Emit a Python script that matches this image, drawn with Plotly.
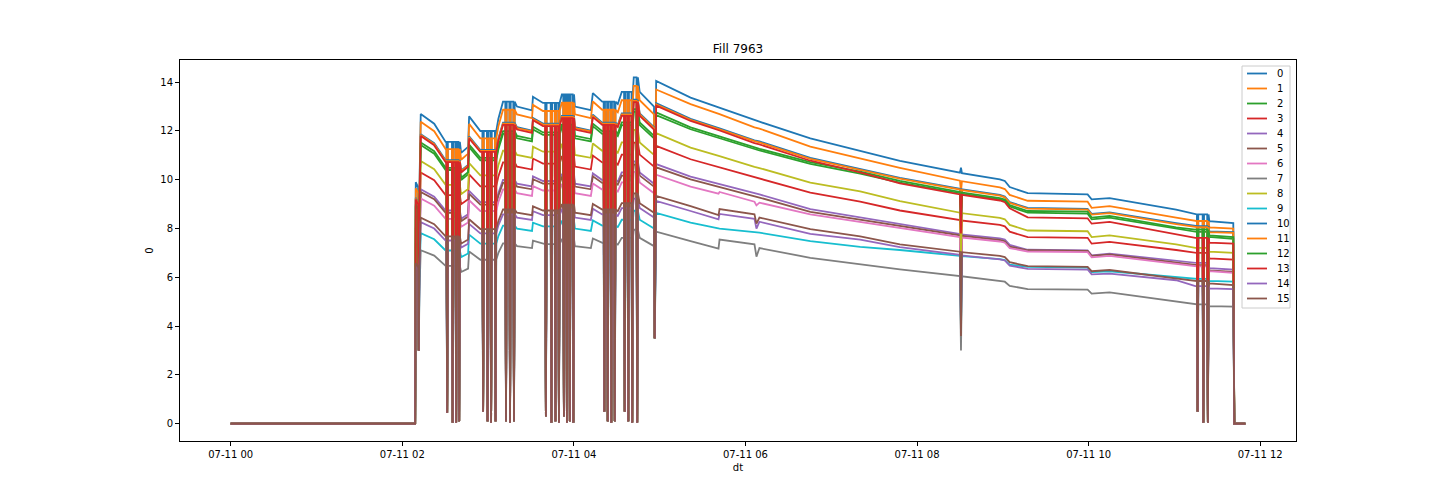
import pandas as pd
import plotly.graph_objects as go

# ---------------- data ----------------
BASE_DAY = "2022-07-11"

# anchor times, hours after 07-11 00:00
anchor_hours = [
    0.000, 2.150, 2.157, 2.180, 2.215, 2.372, 2.505, 2.686, 2.767, 2.779,
    2.910, 3.120, 3.174, 3.337, 3.512, 3.523, 3.640, 3.860, 4.012, 4.198,
    4.221, 4.330, 4.512, 4.558, 4.698, 4.767, 4.930, 4.959, 5.360, 5.686,
    5.698, 6.105, 6.128, 6.163, 6.756, 7.337, 7.800, 8.500, 8.512, 8.523,
    8.965, 9.023, 9.080, 9.290, 9.988, 10.035, 10.244, 11.020, 11.244, 11.407,
    11.686, 11.698, 11.826,
]

# beam-dump style dips: time (hours) and the depth reached
dip_hours = [
    2.192,
    2.523, 2.587, 2.628, 2.663,
    2.942, 2.994, 3.035, 3.087,
    3.209, 3.256, 3.302,
    3.674, 3.738, 3.785, 3.826, 3.884, 3.919, 3.953, 3.994,
    4.355, 4.395, 4.436, 4.477,
    4.593, 4.634, 4.680, 4.738,
    4.942,
    11.270, 11.337, 11.390,
]
dip_depth = [
    3.0,
    0.45, 0.05, 0.05, 0.10,
    0.50, 0.10, 0.05, 0.10,
    0.10, 0.05, 0.10,
    0.30, 0.05, 0.10, 0.05, 0.30, 0.05, 0.10, 0.05,
    0.50, 0.10, 0.05, 0.10,
    0.50, 0.10, 0.05, 0.05,
    3.5,
    0.50, 0.05, 0.05,
]

s0 = [0, 0, 9.9, 9.7, 12.7, 12.3, 11.55, 11.1, 11.35, 12.6, 12.0, 12.5, 13.2, 13.0, 12.85, 13.4, 13.15, 13.5, 13.0, 12.85, 13.55, 13.2, 13.1, 13.6, 14.2, 13.6, 13.0, 14.05,
      13.37, 12.97, 12.95, 12.43, 12.41, 12.38, 11.70, 11.17, 10.77, 10.29, 10.5, 10.27, 10.02, 9.95, 9.70, 9.45, 9.40, 9.20, 9.25, 8.78, 8.58, 8.30, 8.22, 0, 0]
s1 = [0, 0, 9.65, 9.46, 12.38, 11.99, 11.26, 10.82, 11.07, 12.29, 11.70, 12.19, 12.87, 12.68, 12.53, 13.07, 12.82, 13.16, 12.68, 12.53, 13.21, 12.87, 12.77, 13.26, 13.85, 13.26, 12.68, 13.70,
      13.10, 12.71, 12.69, 12.15, 12.13, 12.10, 11.36, 10.88, 10.49, 9.96, 9.5, 9.94, 9.69, 9.62, 9.38, 9.14, 9.10, 8.85, 8.92, 8.45, 8.31, 8.05, 8.00, 0, 0]
s2 = [0, 0, 8.91, 8.73, 11.43, 11.07, 10.40, 9.99, 10.22, 11.34, 10.80, 11.25, 11.88, 11.70, 11.57, 12.06, 11.84, 12.15, 11.70, 11.57, 12.20, 11.88, 11.79, 12.24, 12.78, 12.24, 11.70, 12.65,
      12.07, 11.71, 11.69, 11.25, 11.23, 11.20, 10.65, 10.25, 9.88, 9.45, 7.9, 9.43, 9.20, 9.13, 8.90, 8.65, 8.61, 8.38, 8.45, 8.00, 7.86, 7.66, 7.58, 0, 0]
s3 = [0, 0, 8.03, 7.87, 10.30, 9.98, 9.37, 9.00, 9.20, 10.22, 9.73, 10.14, 10.71, 10.54, 10.42, 10.87, 10.66, 10.95, 10.54, 10.42, 10.99, 10.71, 10.62, 11.03, 11.52, 11.03, 10.54, 11.39,
      10.84, 10.52, 10.50, 10.08, 10.06, 10.03, 9.47, 9.10, 8.74, 8.35, 6.5, 8.33, 8.15, 8.09, 7.87, 7.65, 7.62, 7.38, 7.45, 7.12, 7.00, 6.78, 6.73, 0, 0]
s4 = [0, 0, 7.49, 7.34, 9.61, 9.31, 8.74, 8.40, 8.59, 9.54, 9.08, 9.46, 9.99, 9.84, 9.73, 10.14, 9.95, 10.22, 9.84, 9.73, 10.26, 9.99, 9.92, 10.30, 10.75, 10.30, 9.84, 10.64,
      10.13, 9.83, 9.82, 9.45, 9.43, 9.40, 8.80, 8.45, 8.20, 7.78, 5.5, 7.76, 7.60, 7.55, 7.33, 7.13, 7.10, 6.90, 6.97, 6.68, 6.59, 6.38, 6.32, 0, 0]
s5 = [0, 0, 7.41, 7.26, 9.50, 9.20, 8.64, 8.30, 8.49, 9.42, 8.98, 9.35, 9.87, 9.72, 9.61, 10.02, 9.84, 10.10, 9.72, 9.61, 10.14, 9.87, 9.80, 10.17, 10.62, 10.17, 9.72, 10.51,
      10.02, 9.72, 9.71, 9.32, 9.30, 9.27, 8.68, 8.36, 8.10, 7.72, 4.5, 7.70, 7.53, 7.48, 7.26, 7.11, 7.08, 6.88, 6.94, 6.60, 6.50, 6.28, 6.22, 0, 0]
s6 = [0, 0, 7.20, 7.05, 9.23, 8.94, 8.40, 8.07, 8.25, 9.16, 8.72, 9.09, 9.60, 9.45, 9.34, 9.74, 9.56, 9.81, 9.45, 9.34, 9.85, 9.60, 9.52, 9.89, 10.32, 9.89, 9.45, 10.21,
      9.72, 9.43, 9.50, 9.10, 8.95, 9.06, 8.58, 8.28, 8.03, 7.65, 5.0, 7.63, 7.47, 7.42, 7.20, 7.06, 7.03, 6.82, 6.88, 6.55, 6.45, 6.25, 6.18, 0, 0]
s7 = [0, 0, 5.54, 5.43, 7.11, 6.89, 6.47, 6.22, 6.36, 7.06, 6.72, 7.00, 7.39, 7.28, 7.20, 7.50, 7.36, 7.56, 7.28, 7.20, 7.59, 7.39, 7.34, 7.62, 7.95, 7.62, 7.28, 7.87,
      7.48, 7.18, 7.55, 7.35, 6.85, 7.20, 6.80, 6.53, 6.33, 6.05, 3.0, 6.04, 5.86, 5.82, 5.65, 5.52, 5.50, 5.33, 5.38, 5.02, 4.89, 4.82, 4.80, 0, 0]
s8 = [0, 0, 8.40, 8.23, 10.77, 10.43, 9.79, 9.41, 9.62, 10.68, 10.18, 10.60, 11.19, 11.02, 10.90, 11.36, 11.15, 11.45, 11.02, 10.90, 11.49, 11.19, 11.11, 11.53, 12.04, 11.53, 11.02, 11.91,
      11.32, 10.99, 10.97, 10.53, 10.51, 10.48, 9.88, 9.52, 9.12, 8.65, 7.0, 8.63, 8.44, 8.38, 8.15, 7.92, 7.89, 7.65, 7.72, 7.35, 7.21, 7.05, 7.00, 0, 0]
s9 = [0, 0, 6.09, 5.97, 7.81, 7.56, 7.10, 6.83, 6.98, 7.75, 7.38, 7.69, 8.12, 8.00, 7.90, 8.24, 8.09, 8.30, 8.00, 7.90, 8.33, 8.12, 8.06, 8.36, 8.73, 8.36, 8.00, 8.64,
      8.24, 8.02, 8.00, 7.85, 7.84, 7.83, 7.48, 7.25, 7.12, 6.88, 3.8, 6.87, 6.75, 6.71, 6.52, 6.43, 6.40, 6.22, 6.25, 6.02, 5.94, 5.85, 5.82, 0, 0]
s10 = [0, 0, 9.26, 9.07, 11.87, 11.50, 10.80, 10.38, 10.61, 11.78, 11.22, 11.69, 12.34, 12.16, 12.01, 12.53, 12.30, 12.62, 12.16, 12.01, 12.67, 12.34, 12.25, 12.72, 13.28, 12.72, 12.16, 13.14,
       12.50, 12.13, 12.11, 11.62, 11.60, 11.57, 10.90, 10.45, 10.08, 9.63, 8.5, 9.61, 9.38, 9.31, 9.08, 8.85, 8.81, 8.60, 8.66, 8.22, 8.10, 7.88, 7.85, 0, 0]
s11 = [0, 0, 9.23, 9.04, 11.84, 11.46, 10.76, 10.35, 10.58, 11.74, 11.18, 11.65, 12.30, 12.12, 11.98, 12.49, 12.26, 12.58, 12.12, 11.98, 12.63, 12.30, 12.21, 12.68, 13.23, 12.68, 12.12, 13.09,
       12.46, 12.09, 12.07, 11.58, 11.56, 11.53, 10.86, 10.42, 10.05, 9.60, 8.4, 9.58, 9.35, 9.28, 9.05, 8.82, 8.78, 8.57, 8.63, 8.18, 8.06, 7.85, 7.82, 0, 0]
s12 = [0, 0, 8.99, 8.81, 11.53, 11.17, 10.49, 10.08, 10.31, 11.44, 10.90, 11.35, 11.99, 11.80, 11.67, 12.17, 11.94, 12.26, 11.80, 11.67, 12.30, 11.99, 11.89, 12.35, 12.89, 12.35, 11.80, 12.76,
       12.15, 11.80, 11.78, 11.32, 11.30, 11.27, 10.72, 10.33, 9.95, 9.50, 8.0, 9.48, 9.25, 9.19, 8.96, 8.72, 8.69, 8.45, 8.52, 8.05, 7.96, 7.72, 7.65, 0, 0]
s13 = [0, 0, 9.19, 9.00, 11.79, 11.41, 10.72, 10.30, 10.53, 11.69, 11.14, 11.60, 12.25, 12.06, 11.92, 12.44, 12.20, 12.53, 12.06, 11.92, 12.57, 12.25, 12.16, 12.62, 13.18, 12.62, 12.06, 13.04,
       12.41, 12.04, 12.02, 11.50, 11.48, 11.45, 10.78, 10.30, 9.85, 9.40, 7.8, 9.38, 9.15, 9.08, 8.83, 8.46, 8.42, 8.20, 8.27, 7.75, 7.62, 7.42, 7.38, 0, 0]
s14 = [0, 0, 6.44, 6.31, 8.26, 8.00, 7.51, 7.22, 7.38, 8.19, 7.80, 8.13, 8.58, 8.45, 8.35, 8.71, 8.55, 8.78, 8.45, 8.35, 8.81, 8.58, 8.52, 8.84, 9.23, 8.84, 8.45, 9.13,
       8.72, 8.38, 8.60, 8.40, 8.00, 8.28, 7.78, 7.55, 7.24, 6.92, 4.0, 6.90, 6.74, 6.69, 6.48, 6.35, 6.32, 6.12, 6.15, 5.88, 5.64, 5.55, 5.52, 0, 0]
s15 = [0, 0, 6.58, 6.45, 8.45, 8.18, 7.68, 7.38, 7.55, 8.38, 7.98, 8.31, 8.78, 8.65, 8.55, 8.91, 8.74, 8.98, 8.65, 8.55, 9.01, 8.78, 8.71, 9.04, 9.44, 9.04, 8.65, 9.34,
       8.92, 8.55, 8.80, 8.58, 8.20, 8.45, 7.98, 7.68, 7.35, 7.05, 3.6, 7.03, 6.88, 6.83, 6.62, 6.46, 6.43, 6.25, 6.30, 5.95, 5.85, 5.75, 5.68, 0, 0]

series_values = [s0, s1, s2, s3, s4, s5, s6, s7, s8, s9, s10, s11, s12, s13, s14, s15]
series_names = [str(i) for i in range(16)]

colors = ["#1f77b4", "#ff7f0e", "#2ca02c", "#d62728", "#9467bd",
          "#8c564b", "#e377c2", "#7f7f7f", "#bcbd22", "#17becf"]

x_tick_hours = [0, 2, 4, 6, 8, 10, 12]
y_ticks = [0, 2, 4, 6, 8, 10, 12, 14]

# ---------------- build ----------------
DIP_HALF_WIDTH_H = 0.008
base = pd.Timestamp(BASE_DAY)


def to_time(h):
    return base + pd.to_timedelta(h, unit="h")


def build_points(vals):
    pts = list(zip(anchor_hours, vals))
    for th, depth in zip(dip_hours, dip_depth):
        # level held from the latest anchor before the dip (the beam level around it)
        idx = max(j for j, t in enumerate(anchor_hours) if t <= th)
        level = vals[idx]
        pts += [(th - DIP_HALF_WIDTH_H, level), (th, depth), (th + DIP_HALF_WIDTH_H, level)]
    pts.sort(key=lambda p: p[0])
    return [to_time(p[0]) for p in pts], [p[1] for p in pts]


fig = go.Figure()
for i, (name, vals) in enumerate(zip(series_names, series_values)):
    xs, ys = build_points(vals)
    fig.add_trace(go.Scatter(
        x=xs, y=ys, mode="lines", name=name,
        line=dict(color=colors[i % 10], width=1.8),
        showlegend=False,
    ))

# plot area in pixels (matches the reference)
W, H = 1440, 504
L, R, T, B = 180, 1296, 60, 441

FONT = "DejaVu Sans"
fig.update_layout(
    width=W, height=H,
    margin=dict(l=L, r=W - R, t=T, b=H - B, pad=0),
    paper_bgcolor="white", plot_bgcolor="white",
    font=dict(family=FONT, size=10, color="black"),
    title=dict(text="Fill 7963", x=(L + R) / 2 / W, xanchor="center",
               y=1 - 49 / H, yanchor="middle", yref="container",
               font=dict(family=FONT, size=12, color="black")),
    showlegend=False,
)

fig.update_xaxes(
    type="date",
    range=[to_time(-0.591), to_time(12.417)],
    tickvals=[to_time(h) for h in x_tick_hours],
    tickformat="%m-%d %H",
    showgrid=False, zeroline=False,
    showline=True, mirror=True, linecolor="black", linewidth=1,
    ticks="outside", ticklen=4, tickwidth=1, tickcolor="black",
    tickfont=dict(family=FONT, size=10, color="black"),
    title=dict(text="dt", standoff=4, font=dict(family=FONT, size=10, color="black")),
    automargin=False,
)
fig.update_yaxes(
    range=[-0.71, 14.91],
    tickvals=y_ticks,
    showgrid=False, zeroline=False,
    showline=True, mirror=True, linecolor="black", linewidth=1,
    ticks="outside", ticklen=4, tickwidth=1, tickcolor="black",
    tickfont=dict(family=FONT, size=10, color="black"),
    title=dict(text="0", standoff=4, font=dict(family=FONT, size=10, color="black")),
    automargin=False,
)

# matplotlib-style legend box (upper right)
PW, PH = R - L, B - T


def px_x(px):
    return (px - L) / PW


def px_y(py):
    return (B - py) / PH


shapes = [dict(type="rect", xref="paper", yref="paper",
               x0=px_x(1242), x1=px_x(1290), y0=px_y(308), y1=px_y(66),
               line=dict(color="#cccccc", width=1), fillcolor="rgba(255,255,255,0.8)",
               layer="above")]
annotations = []
for i, name in enumerate(series_names):
    yy = 73.5 + 15 * i
    shapes.append(dict(type="line", xref="paper", yref="paper",
                       x0=px_x(1247), x1=px_x(1267), y0=px_y(yy), y1=px_y(yy),
                       line=dict(color=colors[i % 10], width=1.8), layer="above"))
    annotations.append(dict(xref="paper", yref="paper", x=px_x(1275), y=px_y(yy),
                            text=name, showarrow=False, xanchor="left", yanchor="middle",
                            font=dict(family=FONT, size=10, color="black")))
fig.update_layout(shapes=shapes, annotations=annotations)

fig.write_html("out.html", config={"displayModeBar": False},
               post_script="document.body.style.margin='0';")
